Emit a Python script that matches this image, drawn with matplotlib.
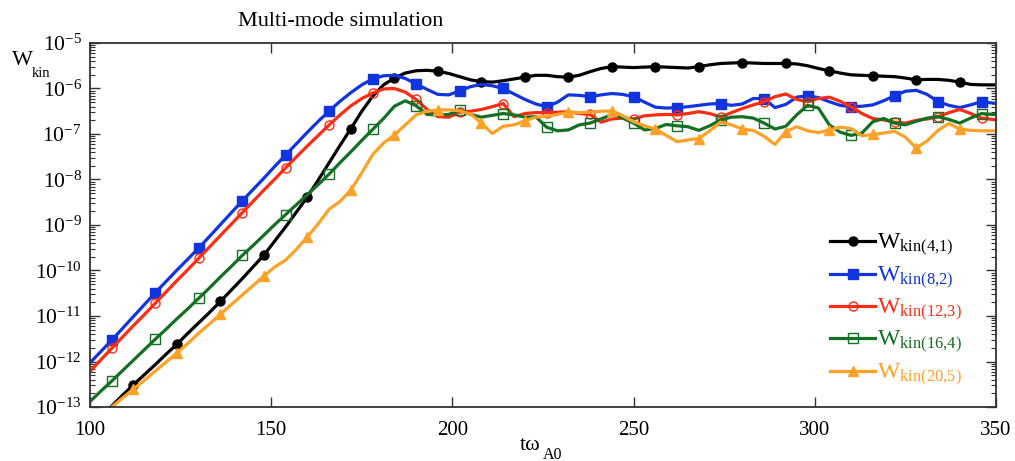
import numpy as np
import matplotlib
matplotlib.use("Agg")
import matplotlib.pyplot as plt
from matplotlib.ticker import LogLocator, NullFormatter, FixedLocator

plt.rcParams["font.family"] = ["Liberation Serif", "DejaVu Serif"]
plt.rcParams["mathtext.fontset"] = "custom"
plt.rcParams["mathtext.rm"] = "Liberation Serif"
plt.rcParams["mathtext.it"] = "Liberation Serif:italic"

# ── Data: time samples and log10 of the kinetic energy per mode ──────────────

t = np.append(np.arange(100, 350, 3), 350)

log_w41 = [
    -13.45, -13.22, -12.98, -12.74, -12.51, -12.29, -12.07, -11.84, -11.62, -11.38,
    -11.15, -10.92, -10.68, -10.43, -10.18, -9.92, -9.66, -9.35, -9.04, -8.71,
    -8.38, -8.01, -7.63, -7.25, -6.88, -6.50, -6.17, -5.92, -5.77, -5.66,
    -5.61, -5.60, -5.62, -5.67, -5.74, -5.81, -5.85, -5.86, -5.83, -5.79,
    -5.75, -5.71, -5.71, -5.74, -5.75, -5.71, -5.63, -5.56, -5.52, -5.53,
    -5.54, -5.53, -5.52, -5.53, -5.54, -5.55, -5.52, -5.48, -5.45, -5.44,
    -5.43, -5.44, -5.45, -5.45, -5.45, -5.46, -5.50, -5.56, -5.61, -5.66,
    -5.70, -5.71, -5.72, -5.73, -5.74, -5.77, -5.81, -5.80, -5.80, -5.82,
    -5.86, -5.91, -5.92, -5.92, -5.92,
]
log_w82 = [
    -12.03, -11.78, -11.53, -11.27, -11.01, -10.75, -10.49, -10.24, -9.99, -9.75,
    -9.505, -9.25, -8.99, -8.73, -8.47, -8.22, -7.97, -7.71, -7.46, -7.21,
    -6.96, -6.72, -6.495, -6.28, -6.09, -5.92, -5.79, -5.72, -5.71, -5.78,
    -5.90, -6.02, -6.13, -6.14, -6.05, -5.96, -5.91, -5.94, -6.00, -6.12,
    -6.24, -6.34, -6.40, -6.30, -6.14, -6.15, -6.18, -6.14, -6.11, -6.13,
    -6.18, -6.30, -6.41, -6.43, -6.42, -6.40, -6.37, -6.34, -6.33, -6.37,
    -6.34, -6.22, -6.22, -6.42, -6.35, -6.19, -6.16, -6.20, -6.29, -6.37,
    -6.40, -6.39, -6.36, -6.27, -6.16, -6.06, -6.04, -6.13, -6.29, -6.37,
    -6.42, -6.36, -6.29, -6.32, -6.33,
]
log_w123 = [
    -12.22, -11.96, -11.71, -11.46, -11.21, -10.97, -10.72, -10.47, -10.22, -9.98,
    -9.73, -9.48, -9.23, -8.98, -8.73, -8.48, -8.23, -7.99, -7.74, -7.50,
    -7.26, -7.03, -6.80, -6.58, -6.38, -6.22, -6.10, -6.01, -6.00, -6.08,
    -6.24, -6.46, -6.62, -6.63, -6.52, -6.50, -6.46, -6.40, -6.33, -6.62,
    -6.55, -6.53, -6.53, -6.52, -6.51, -6.55, -6.57, -6.74, -6.67, -6.65,
    -6.67, -6.60, -6.58, -6.57, -6.58, -6.55, -6.51, -6.55, -6.63, -6.53,
    -6.44, -6.36, -6.29, -6.18, -6.12, -6.24, -6.29, -6.22, -6.19, -6.28,
    -6.40, -6.55, -6.66, -6.69, -6.74, -6.76, -6.70, -6.67, -6.62, -6.53,
    -6.46, -6.55, -6.65, -6.68, -6.69,
]
log_w164 = [
    -12.88, -12.65, -12.43, -12.20, -11.97, -11.74, -11.51, -11.29, -11.06, -10.84,
    -10.61, -10.38, -10.14, -9.91, -9.67, -9.45, -9.22, -8.99, -8.77, -8.55,
    -8.33, -8.11, -7.88, -7.63, -7.39, -7.14, -6.90, -6.66, -6.39, -6.27,
    -6.38, -6.57, -6.58, -6.57, -6.47, -6.57, -6.63, -6.59, -6.55, -6.58,
    -6.63, -6.62, -6.85, -6.93, -6.91, -6.80, -6.76, -6.67, -6.57, -6.65,
    -6.76, -6.91, -6.88, -6.79, -6.82, -6.84, -6.92, -6.82, -6.69, -6.63,
    -6.62, -6.65, -6.76, -6.89, -6.83, -6.58, -6.37, -6.43, -6.80, -6.96,
    -7.03, -6.98, -6.73, -6.66, -6.76, -6.80, -6.72, -6.65, -6.62, -6.68,
    -6.76, -6.65, -6.55, -6.57, -6.57,
]
log_w205 = [
    -13.50, -13.25, -13.00, -12.80, -12.61, -12.41, -12.21, -12.01, -11.81, -11.60,
    -11.38, -11.17, -10.96, -10.75, -10.54, -10.33, -10.12, -9.92, -9.77, -9.53,
    -9.26, -8.97, -8.65, -8.48, -8.23, -7.85, -7.45, -7.20, -7.02, -6.80,
    -6.58, -6.50, -6.47, -6.47, -6.49, -6.56, -6.76, -6.99, -6.83, -6.80,
    -6.71, -6.63, -6.61, -6.57, -6.52, -6.53, -6.52, -6.50, -6.49, -6.60,
    -6.73, -6.82, -6.89, -7.03, -7.17, -7.13, -7.10, -6.93, -6.74, -6.80,
    -6.89, -6.92, -7.05, -7.23, -6.95, -6.84, -6.93, -6.97, -6.91, -6.85,
    -6.88, -7.04, -7.01, -6.98, -6.94, -7.07, -7.31, -7.15, -6.92, -6.77,
    -6.89, -6.92, -6.93, -6.93, -6.93,
]

# marker times for each mode
marks_a = np.arange(106, 350, 12)   # (8,2), (12,3), (16,4)
marks_b = np.arange(112, 350, 12)   # (4,1), (20,5)

labels = ["(4{,}1)", "(8{,}2)", "(12{,}3)", "(16{,}4)", "(20{,}5)"]
series = [log_w41, log_w82, log_w123, log_w164, log_w205]
colors = ["#000000", "#1034e0", "#ff2c14", "#137022", "#ffa126"]
styles = [
    dict(marker="o", ms=6.5, mfc="#000000", mec="#000000", marks=marks_b),
    dict(marker="s", ms=6.5, mfc="#1034e0", mec="#1034e0", marks=marks_a),
    dict(marker="o", ms=6.5, mfc="none", mec="#ff2c14", marks=marks_a),
    dict(marker="s", ms=6.5, mfc="none", mec="#137022", marks=marks_a),
    dict(marker="^", ms=6.5, mfc="#ffa126", mec="#ffa126", marks=marks_b),
]

x_ticks = [100, 150, 200, 250, 300, 350]
y_decades = [1e-13, 1e-12, 1e-11, 1e-10, 1e-9, 1e-8, 1e-7, 1e-6, 1e-5]

# ── Figure ───────────────────────────────────────────────────────────────────

fig = plt.figure(figsize=(10.15, 4.61), dpi=100)
ax = fig.add_axes([90 / 1015, 1 - 407 / 461, 906 / 1015, 364 / 461])

for lab, vals, col, st in zip(labels, series, colors, styles):
    idx = np.flatnonzero(np.isin(t, st["marks"]))
    ax.plot(t, 10.0 ** np.array(vals), color=col, lw=2.3,
            marker=st["marker"], ms=st["ms"], mfc=st["mfc"], mec=st["mec"],
            mew=1.0, markevery=list(idx),
            label=r"W$_{\rm kin" + lab + "}$")

ax.set_yscale("log")
ax.set_xlim(100, 350)
ax.set_ylim(1e-13, 1e-5)

ax.xaxis.set_major_locator(FixedLocator(x_ticks))
ax.yaxis.set_major_locator(FixedLocator(y_decades))
ax.yaxis.set_minor_locator(LogLocator(base=10, subs=np.arange(2, 10), numticks=20))
ax.yaxis.set_minor_formatter(NullFormatter())
ax.tick_params(which="both", direction="in", top=True, right=True,
               color="#333333")
ax.tick_params(which="major", length=7, width=1.0)
ax.tick_params(which="minor", length=3.5, width=0.8)
ax.tick_params(axis="x", labelsize=15, pad=10)
ax.tick_params(axis="y", labelsize=15.5, pad=6)
for sp in ax.spines.values():
    sp.set_linewidth(1.3)
    sp.set_color("#333333")

leg = ax.legend(loc="upper left", bbox_to_anchor=(0.817, 0.48),
                frameon=False, fontsize=17, handlelength=1.9,
                handletextpad=0.1, labelspacing=0.27, borderaxespad=0,
                borderpad=0, labelcolor="linecolor")

fig.text(341 / 1015, 1 - 26.5 / 461, "Multi-mode simulation",
         ha="center", va="baseline", fontsize=16)
fig.text(12 / 1015, 1 - 65 / 461, "W", ha="left", va="baseline", fontsize=16)
fig.text(32 / 1015, 1 - 77 / 461, "kin", ha="left", va="baseline", fontsize=10.5)
fig.text(520 / 1015, 1 - 450 / 461, "tω", ha="left", va="baseline", fontsize=16)
fig.text(543 / 1015, 1 - 459 / 461, "A0", ha="left", va="baseline", fontsize=11.5)

fig.savefig("out.png", dpi=100)
